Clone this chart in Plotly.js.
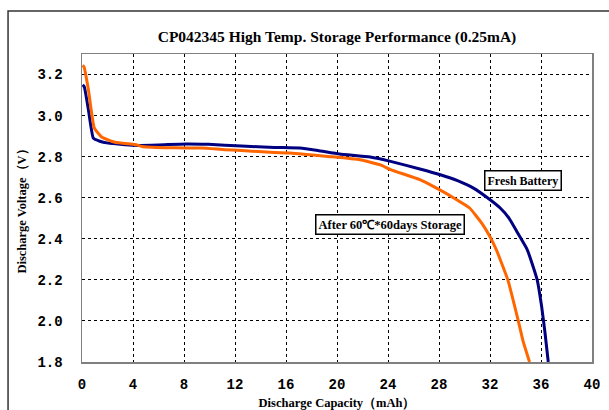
<!DOCTYPE html>
<html><head><meta charset="utf-8">
<script src="https://cdn.plot.ly/plotly-3.0.1.min.js"></script>
<style>html,body{margin:0;padding:0;background:#fff;}#chart{width:609px;height:410px;}</style>
</head><body><div id="chart"></div>
<script>
// Fresh battery discharge curve (capacity mAh, voltage V)
const freshCapacity = [0.05, 0.18, 0.5, 0.89, 1.4, 2.06, 3.0, 4.16, 6.0, 8.16, 9.9, 12.5, 15.1, 17.1, 18.5, 20.2, 22.6, 24.2, 26.5, 28.1, 29.5, 30.7, 31.8, 32.8, 33.5, 34.1, 34.9, 35.3, 35.7, 36.05, 36.3, 36.57];
const freshVoltage  = [3.15, 3.14, 3.03, 2.89, 2.875, 2.866, 2.86, 2.855, 2.857, 2.862, 2.86, 2.852, 2.845, 2.842, 2.83, 2.813, 2.798, 2.777, 2.74, 2.712, 2.682, 2.647, 2.6, 2.55, 2.5, 2.436, 2.35, 2.28, 2.2, 2.07, 1.95, 1.8];
// After 60℃ * 60 days storage
const storedCapacity = [0.05, 0.16, 0.5, 0.96, 1.54, 2.59, 4.16, 4.7, 6.5, 8.1, 9.4, 11.2, 12.5, 15.1, 16.3, 19.5, 21.8, 23.4, 24.2, 26.5, 27.55, 29.0, 30.4, 31.35, 32.0, 32.5, 33.4, 34.2, 34.6, 35.1];
const storedVoltage  = [3.245, 3.237, 3.127, 2.94, 2.896, 2.87, 2.859, 2.85, 2.844, 2.842, 2.842, 2.834, 2.83, 2.82, 2.818, 2.8, 2.785, 2.76, 2.737, 2.688, 2.655, 2.605, 2.55, 2.476, 2.41, 2.346, 2.2, 2.005, 1.9, 1.8];
const seriesNames = ["Fresh Battery", "After 60℃*60days Storage"];
const xTicks = [0, 4, 8, 12, 16, 20, 24, 28, 32, 36, 40];
const yTicks = [1.8, 2.0, 2.2, 2.4, 2.6, 2.8, 3.0, 3.2];

const serif = "Liberation Serif, Times New Roman, serif";
const mono = "Liberation Mono, DejaVu Sans Mono, monospace";
const traces = [
  {x: freshCapacity, y: freshVoltage, mode: "lines", name: seriesNames[0],
   line: {color: "#000080", width: 3, shape: "spline", smoothing: 0.4}},
  {x: storedCapacity, y: storedVoltage, mode: "lines", name: seriesNames[1],
   line: {color: "#FF6600", width: 3, shape: "spline", smoothing: 0.4}}
];
const layout = {
  width: 609, height: 410,
  margin: {l: 82, r: 17, t: 54, b: 48},
  paper_bgcolor: "#fff", plot_bgcolor: "#fff",
  showlegend: false,
  title: {text: "<b>CP042345 High Temp. Storage Performance (0.25mA)</b>",
          font: {family: serif, size: 15.5, color: "#000"},
          x: 0.5, xref: "paper", xanchor: "center", y: 0.912, yref: "container", yanchor: "middle"},
  xaxis: {range: [0, 40], tickvals: xTicks, ticktext: xTicks.map(String),
          showgrid: true, gridcolor: "#000", griddash: "dot", gridwidth: 1,
          showline: true, linecolor: "#808080", linewidth: 1.5, mirror: true,
          zeroline: false, ticks: "", ticklen: 0, ticklabelstandoff: 9,
          tickfont: {family: mono, size: 14, color: "#000", weight: "bold"},
          title: {text: "<b>Discharge Capacity（mAh）</b>", font: {family: serif, size: 12.5, color: "#000"}, standoff: 16}},
  yaxis: {range: [1.8, 3.3], tickvals: yTicks, ticktext: yTicks.map(v => v.toFixed(1)),
          showgrid: true, gridcolor: "#000", griddash: "dot", gridwidth: 1,
          showline: true, linecolor: "#808080", linewidth: 1.5, mirror: true,
          zeroline: false, ticks: "", ticklen: 0, ticklabelstandoff: 15,
          tickfont: {family: mono, size: 14, color: "#000", weight: "bold"},
          title: {text: "<b>Discharge Voltage（V）</b>", font: {family: serif, size: 12.5, color: "#000"}, standoff: 8}},
  annotations: [
    {x: 34.6, y: 2.683, xref: "x", yref: "y", text: "<b>" + seriesNames[0] + "</b>", showarrow: false,
     font: {family: serif, size: 12, color: "#000"}, bgcolor: "#fff", bordercolor: "#000", borderwidth: 1.5, borderpad: 2},
    {x: 24.16, y: 2.468, xref: "x", yref: "y", text: "<b>" + seriesNames[1] + "</b>", showarrow: false,
     font: {family: serif, size: 12.5, color: "#000"}, bgcolor: "#fff", bordercolor: "#000", borderwidth: 1.5, borderpad: 2}
  ],
  shapes: [
    {type: "rect", xref: "paper", yref: "paper", x0: -0.145, x1: 1.2, y0: -0.2, y1: 1.1396,
     line: {color: "#333", width: 1.5}, fillcolor: "rgba(0,0,0,0)", layer: "below"}
  ]
};
Plotly.newPlot("chart", traces, layout, {displayModeBar: false, staticPlot: true});
</script></body></html>
